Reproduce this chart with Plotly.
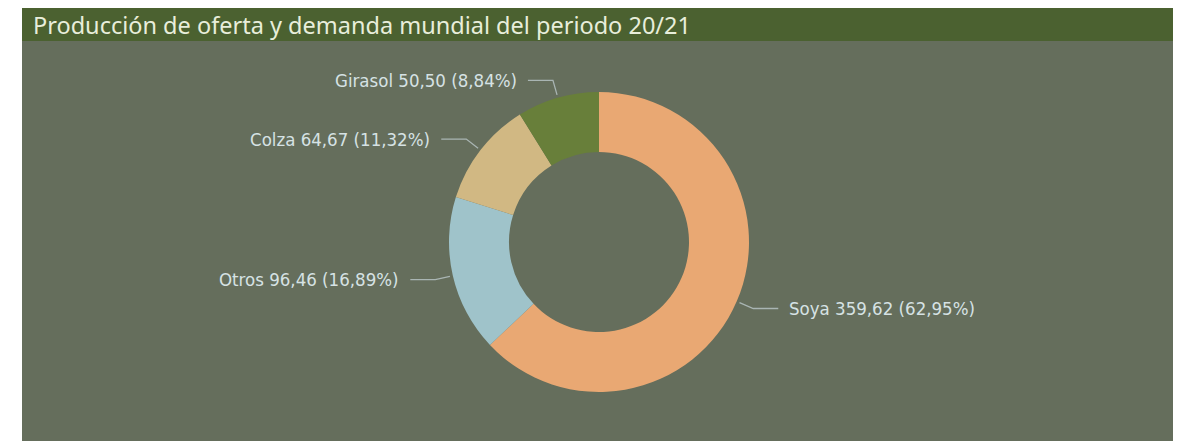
import math
import plotly.graph_objects as go

# ---- data ----
categories = ["Soya", "Otros", "Colza", "Girasol"]
values = [359.62, 96.46, 64.67, 50.50]
value_labels = ["359,62", "96,46", "64,67", "50,50"]
pct_labels = ["62,95%", "16,89%", "11,32%", "8,84%"]
colors = ["#e9a873", "#9fc3ca", "#d1b883", "#687f3a"]
title_text = "Producción de oferta y demanda mundial del periodo 20/21"

# ---- layout constants (page pixels; page body has an 8px margin) ----
OFF = 8
W, H = 1181 - OFF, 441 - OFF
CX, CY, R = 599 - OFF, 242 - OFF, 150
PANEL_L, PANEL_R, PANEL_T, TITLE_B = 22 - OFF, 1177 - OFF, 7 - OFF, 41 - OFF
BG = "#656e5c"
TITLE_BG = "#4b6130"
LABEL_COLOR = "#d6e2e4"
LINE_COLOR = "#a9b5b3"

fig = go.Figure()

fig.add_trace(go.Pie(
    labels=categories,
    values=values,
    hole=0.6,
    sort=False,
    direction="clockwise",
    rotation=0,
    marker=dict(colors=colors, line=dict(width=0)),
    textinfo="none",
    showlegend=False,
    domain=dict(x=[(CX - R) / W, (CX + R) / W],
                y=[(H - CY - R) / H, (H - CY + R) / H]),
))

total = sum(values)
cum = 0.0
annotations = []
for cat, v, vl, pl in zip(categories, values, value_labels, pct_labels):
    mid = (cum + v / 2) / total * 2 * math.pi
    cum += v
    s, c = math.sin(mid), math.cos(mid)
    x0, y0 = CX + (R + 3) * s, CY - (R + 3) * c
    x1, y1 = CX + (R + 18) * s, CY - (R + 18) * c
    side = 1 if s >= 0 else -1
    x2 = x1 + side * 25
    fig.add_trace(go.Scatter(
        x=[x0, x1, x2], y=[y0, y1, y1], mode="lines",
        line=dict(color=LINE_COLOR, width=1.3),
        hoverinfo="skip", showlegend=False,
    ))
    annotations.append(dict(
        x=x2 + side * 9, y=y1, xref="x", yref="y",
        text=f"{cat} {vl} ({pl})", showarrow=False,
        xanchor="left" if side > 0 else "right", yanchor="middle",
        font=dict(family="DejaVu Sans Condensed", size=18.5, color=LABEL_COLOR),
    ))

annotations.append(dict(
    x=33 - OFF - 2, y=(PANEL_T + TITLE_B) / 2 + 1, xref="x", yref="y",
    text=title_text, showarrow=False, xanchor="left", yanchor="middle",
    font=dict(family="Noto Sans", size=23.5, color="#e8eedb"),
))

shapes = [
    dict(type="rect", xref="x", yref="y", x0=PANEL_L, x1=PANEL_R, y0=TITLE_B, y1=H + 5,
         fillcolor=BG, line=dict(width=0), layer="below"),
    dict(type="rect", xref="x", yref="y", x0=PANEL_L, x1=PANEL_R, y0=PANEL_T, y1=TITLE_B,
         fillcolor=TITLE_BG, line=dict(width=0), layer="below"),
]

fig.update_layout(
    width=W, height=H,
    margin=dict(l=0, r=0, t=0, b=0),
    paper_bgcolor="white", plot_bgcolor="rgba(0,0,0,0)",
    xaxis=dict(range=[0, W], visible=False, fixedrange=True, domain=[0, 1]),
    yaxis=dict(range=[H, 0], visible=False, fixedrange=True, domain=[0, 1]),
    shapes=shapes,
    annotations=annotations,
)

fig.write_html("out.html")
